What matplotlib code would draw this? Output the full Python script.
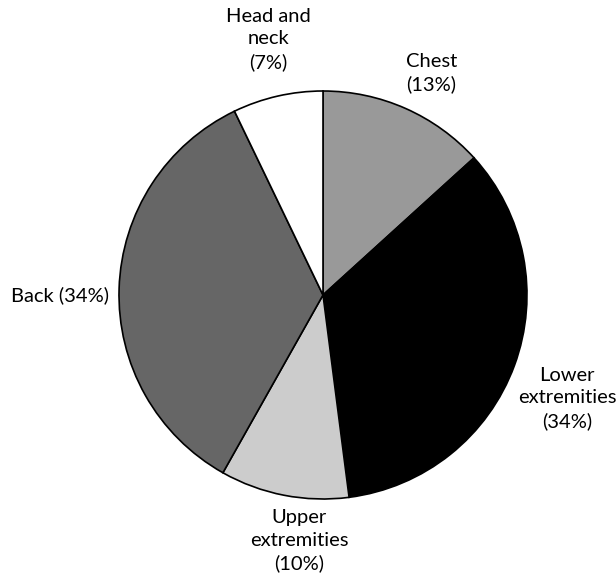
import numpy as np
import matplotlib.pyplot as plt

categories = ['Chest', 'Lower\nextremities', 'Upper\nextremities', 'Back', 'Head and\nneck']
shares = [13, 34, 10, 34, 7]
colors = ['#999999', '#000000', '#cccccc', '#666666', '#ffffff']

# label anchors: (angle in degrees, distance in radii, ha)
label_pos = [(64, 1.21, 'center'), (-23, 1.30, 'center'), (-95.5, 1.21, 'center'),
             (180, 1.05, 'right'), (102, 1.28, 'center')]

fig = plt.figure(figsize=(6.16, 5.77), dpi=100)
ax = fig.add_axes([119 / 616, 78 / 577, 408 / 616, 408 / 577])

ax.pie(shares, colors=colors, startangle=90, counterclock=False,
       wedgeprops=dict(edgecolor='black', linewidth=1.2))

for cat, val, (ang, dist, ha) in zip(categories, shares, label_pos):
    if cat == 'Back':
        txt = f"{cat} ({val}%)"
    else:
        txt = f"{cat}\n({val}%)"
    x = dist * np.cos(np.radians(ang))
    y = dist * np.sin(np.radians(ang))
    ax.text(x, y, txt, ha=ha, va='center', fontsize=14.5, linespacing=1.38,
            family='Lato')

ax.set_xlim(-1, 1)
ax.set_ylim(-1, 1)
ax.set_aspect('equal')
ax.axis('off')

plt.savefig('out.png', dpi=100)
